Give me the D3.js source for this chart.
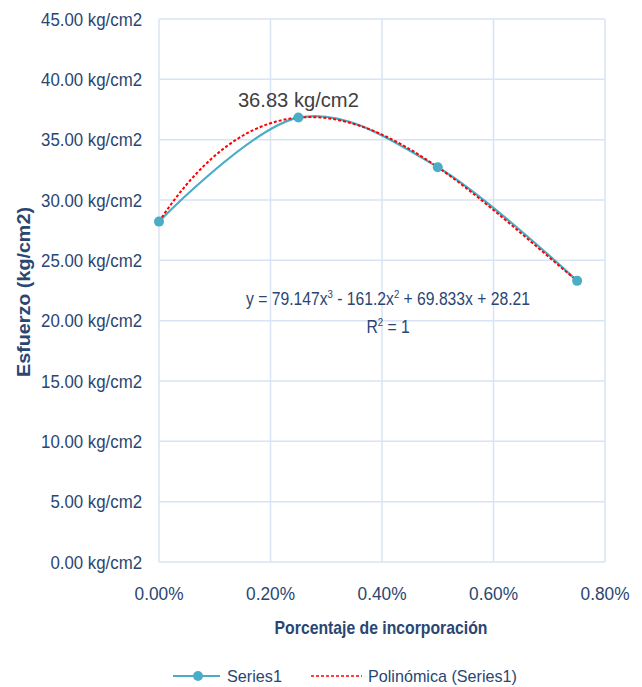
<!DOCTYPE html>
<html>
<head>
<meta charset="utf-8">
<script src="https://cdn.jsdelivr.net/npm/d3@7.9.0/dist/d3.min.js"></script>
<style>
  body { margin: 0; background: #fff; }
  svg text { font-family: "Liberation Sans", Arial, sans-serif; }
</style>
</head>
<body>
<svg id="chart" width="642" height="687"></svg>
<script>
// porcentaje de incorporacion (%)
const percents = [0, 0.25, 0.5, 0.75];
const esfuerzo = [28.21, 36.83, 32.72, 23.30];
// trend line coefficients, highest power first (as printed on the chart)
const polyCoef = [79.147, -161.2, 69.833, 28.21];
const yTicks = [0, 5, 10, 15, 20, 25, 30, 35, 40, 45];
const xTicks = [0, 0.2, 0.4, 0.6, 0.8];
const peakLabel = '36.83 kg/cm2';

const svg = d3.select('#chart');
const textColor = '#2a4672';
const lineColor = '#4bacc6';

const x = d3.scaleLinear().domain([0, 0.8]).range([159, 605]);
const y = d3.scaleLinear().domain([0, 45]).range([562, 19]);

// squeeze text horizontally (the original uses a narrow font)
function label(parent, px, py, str, size, k, anchor, weight, fill) {
  return parent.append('text')
    .attr('transform', `translate(${px},${py}) scale(${k},1)`)
    .attr('text-anchor', anchor || 'start')
    .attr('font-size', size)
    .attr('font-weight', weight || 'normal')
    .attr('fill', fill || textColor)
    .text(str);
}
function fitK(str, size, weight, width) {
  const t = svg.append('text').attr('font-size', size).attr('font-weight', weight || 'normal').text(str);
  const w = t.node().getComputedTextLength();
  t.remove();
  return width / w;
}

// grid
svg.append('g')
  .selectAll('line')
  .data(yTicks)
  .join('line')
  .attr('x1', x(0)).attr('x2', x(0.8))
  .attr('y1', d => y(d)).attr('y2', d => y(d))
  .attr('stroke', '#d8e3f3').attr('stroke-width', 1.5);

svg.append('g')
  .selectAll('line')
  .data(xTicks)
  .join('line')
  .attr('x1', d => x(d)).attr('x2', d => x(d))
  .attr('y1', y(0)).attr('y2', y(45))
  .attr('stroke', '#d8e3f3').attr('stroke-width', 1.5);

// tick labels
const fmtY = d => d.toFixed(2) + ' kg/cm2';
const fmtX = d => d.toFixed(2) + '%';
const kY = fitK(fmtY(45), 18, 'normal', 101);
const gy = svg.append('g');
yTicks.forEach(d => label(gy, x(0) - 17, y(d) + 6.5, fmtY(d), 18, kY, 'end'));

const kX = fitK(fmtX(0.8), 18, 'normal', 49);
const gx = svg.append('g');
xTicks.forEach(d => label(gx, x(d), 600, fmtX(d), 18, kX, 'middle'));

// axis titles
const yTitle = 'Esfuerzo (kg/cm2)';
svg.append('text')
  .attr('transform', `translate(30,292) rotate(-90) scale(${fitK(yTitle, 18, 'bold', 170)},1)`)
  .attr('text-anchor', 'middle')
  .attr('font-size', 18).attr('font-weight', 'bold').attr('fill', textColor)
  .text(yTitle);

const xTitle = 'Porcentaje de incorporación';
label(svg, 381, 634, xTitle, 18, fitK(xTitle, 18, 'bold', 213), 'middle', 'bold');

// series1, smoothed
const pts = percents.map((p, i) => [p, esfuerzo[i]]);
const smooth = d3.line().x(d => x(d[0])).y(d => y(d[1])).curve(d3.curveCardinal.tension(0));
svg.append('path')
  .attr('d', smooth(pts))
  .attr('fill', 'none').attr('stroke', lineColor).attr('stroke-width', 2.2);

// polynomial trend line
const poly = t => polyCoef.reduce((acc, c) => acc * t + c, 0);
const trendPts = d3.range(0, 0.7501, 0.005).map(t => [t, poly(t)]);
svg.append('path')
  .attr('d', d3.line().x(d => x(d[0])).y(d => y(d[1]))(trendPts))
  .attr('fill', 'none').attr('stroke', '#ff0000').attr('stroke-width', 2)
  .attr('stroke-dasharray', '3,2');

svg.append('g')
  .selectAll('circle')
  .data(pts)
  .join('circle')
  .attr('cx', d => x(d[0])).attr('cy', d => y(d[1])).attr('r', 5)
  .attr('fill', lineColor);

// peak label
label(svg, x(percents[1]), y(esfuerzo[1]) - 11, peakLabel, 21,
  fitK(peakLabel, 21, 'normal', 121), 'middle', 'normal', '#404040');

// equation
const eqStr = `y = ${polyCoef[0]}x3 - ${-polyCoef[1]}x2 + ${polyCoef[2]}x + ${polyCoef[3]}`;
const kEq = fitK(eqStr, 18, 'normal', 291);
const eq = svg.append('text')
  .attr('transform', `translate(388,305) scale(${kEq},1)`)
  .attr('text-anchor', 'middle')
  .attr('font-size', 18).attr('fill', textColor);
eq.append('tspan').text(`y = ${polyCoef[0]}x`);
eq.append('tspan').attr('font-size', 11).attr('dy', -7).text('3');
eq.append('tspan').attr('dy', 7).text(` - ${-polyCoef[1]}x`);
eq.append('tspan').attr('font-size', 11).attr('dy', -7).text('2');
eq.append('tspan').attr('dy', 7).text(` + ${polyCoef[2]}x + ${polyCoef[3]}`);

const r2 = svg.append('text')
  .attr('transform', `translate(388,333) scale(${kEq},1)`)
  .attr('text-anchor', 'middle')
  .attr('font-size', 18).attr('fill', textColor);
r2.append('tspan').text('R');
r2.append('tspan').attr('font-size', 11).attr('dy', -7).text('2');
r2.append('tspan').attr('dy', 7).text(' = 1');

// legend
const lg = svg.append('g');
lg.append('line').attr('x1', 173).attr('x2', 220).attr('y1', 676).attr('y2', 676)
  .attr('stroke', lineColor).attr('stroke-width', 2.2);
lg.append('circle').attr('cx', 198).attr('cy', 676).attr('r', 5).attr('fill', lineColor);
label(lg, 227, 682, 'Series1', 17, fitK('Series1', 17, 'normal', 55));
lg.append('line').attr('x1', 311).attr('x2', 362).attr('y1', 676).attr('y2', 676)
  .attr('stroke', '#ff0000').attr('stroke-width', 1.5).attr('stroke-dasharray', '3,2');
label(lg, 368, 682, 'Polinómica (Series1)', 17, fitK('Polinómica (Series1)', 17, 'normal', 149));
</script>
</body>
</html>
